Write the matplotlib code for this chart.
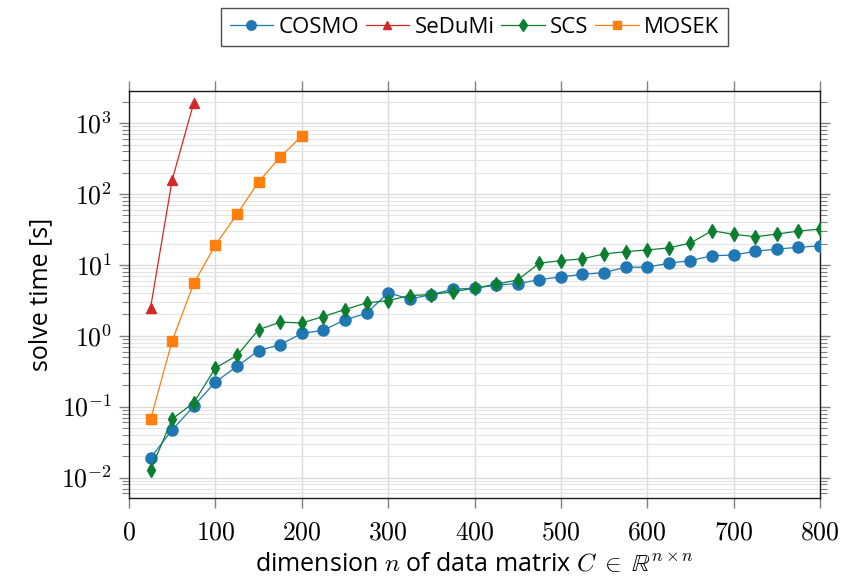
import matplotlib
matplotlib.use("Agg")
import matplotlib.pyplot as plt
from matplotlib.ticker import LogLocator, NullFormatter, FixedLocator, FuncFormatter
import math

plt.rcParams['mathtext.fontset'] = 'cm'
plt.rcParams['font.family'] = ['Open Sans', 'DejaVu Sans']

n = [25, 50, 75, 100, 125, 150, 175, 200, 225, 250, 275, 300, 325, 350, 375, 400,
     425, 450, 475, 500, 525, 550, 575, 600, 625, 650, 675, 700, 725, 750, 775, 800]

cosmo = [0.019, 0.047, 0.102, 0.223, 0.37, 0.62, 0.75, 1.08, 1.2, 1.68, 2.08, 4.05,
         3.3, 3.82, 4.55, 4.7, 5.2, 5.45, 6.2, 6.8, 7.35, 7.8, 9.3, 9.3, 10.6, 11.5,
         13.5, 13.8, 15.6, 16.8, 17.7, 18.7]
scs = [0.0127, 0.067, 0.114, 0.351, 0.528, 1.22, 1.56, 1.52, 1.87, 2.35, 2.92, 3.14,
       3.7, 3.82, 4.2, 4.7, 5.35, 6.15, 10.6, 11.5, 12.2, 14.3, 15.4, 16.3, 17.4, 20.4,
       30.4, 27.1, 25.0, 27.3, 30.1, 32.1]
n_sedumi = [25, 50, 75]
sedumi = [2.5, 159, 1950]
n_mosek = [25, 50, 75, 100, 125, 150, 175, 200]
mosek = [0.066, 0.85, 5.5, 19.1, 52, 149, 332, 662]

xticks = [0, 100, 200, 300, 400, 500, 600, 700, 800]

fig = plt.figure(figsize=(8.42, 5.81), dpi=100)
ax = fig.add_axes([0.1532, 0.1424, 0.8207, 0.7015])

c_blue = '#1f77b4'
c_red = '#d62728'
c_green = '#0b7f2f'
c_orange = '#ff7f0e'

ax.plot(n, cosmo, color=c_blue, lw=0.9, marker='o', ms=8, mec=c_blue, mfc=c_blue, label='COSMO', zorder=3)
ax.plot(n_sedumi, sedumi, color=c_red, lw=0.9, marker='^', ms=7, mec=c_red, mfc=c_red, label='SeDuMi', zorder=3)
ax.plot(n, scs, color=c_green, lw=0.9, marker='d', ms=7, mec=c_green, mfc=c_green, label='SCS', zorder=3)
ax.plot(n_mosek, mosek, color=c_orange, lw=0.9, marker='s', ms=7.5, mec=c_orange, mfc=c_orange, label='MOSEK', zorder=3)

ax.set_yscale('log')
ax.set_xlim(0, 800)
ax.set_ylim(0.0051, 2880)

ax.xaxis.set_major_locator(FixedLocator(xticks))
ax.set_xticklabels([f'${v}$' for v in xticks])
ax.yaxis.set_major_locator(LogLocator(base=10, numticks=20))
ax.yaxis.set_major_formatter(FuncFormatter(lambda v, p: r'$10^{%d}$' % round(math.log10(v))))
ax.yaxis.set_minor_locator(LogLocator(base=10, subs=range(2, 10), numticks=20))
ax.yaxis.set_minor_formatter(NullFormatter())

ax.grid(True, which='major', color='#dcdcdc', lw=1.0, zorder=0)
ax.grid(True, which='minor', axis='y', color='#e4e4e4', lw=0.8, zorder=0)
ax.set_axisbelow(True)

ax.tick_params(axis='both', which='major', direction='out', length=7, width=1.0,
               color='#808080', labelsize=18.5, top=True, right=True, pad=5)
ax.tick_params(axis='x', which='major', pad=9)
ax.tick_params(axis='y', which='minor', direction='out', length=5, width=0.8,
               color='#808080', left=True, right=True)
for s in ax.spines.values():
    s.set_color('#1a1a1a')
    s.set_linewidth(1.0)

ax.set_ylabel('solve time [s]', fontsize=18, labelpad=6)
ax.set_xlabel(r'dimension $n$ of data matrix $C\;\in\;\mathbb{R}^{n\times n}$', fontsize=18, labelpad=5)

leg = fig.legend(loc='upper center', bbox_to_anchor=(0.5636, 0.986), ncol=4, fontsize=16,
                 frameon=True, fancybox=False, edgecolor='#202020', handlelength=1.95,
                 handletextpad=0.25, columnspacing=0.3, borderpad=0.38, borderaxespad=0,
                 markerscale=0.85)
leg.get_frame().set_linewidth(1.0)

fig.savefig('out.png', dpi=100)
